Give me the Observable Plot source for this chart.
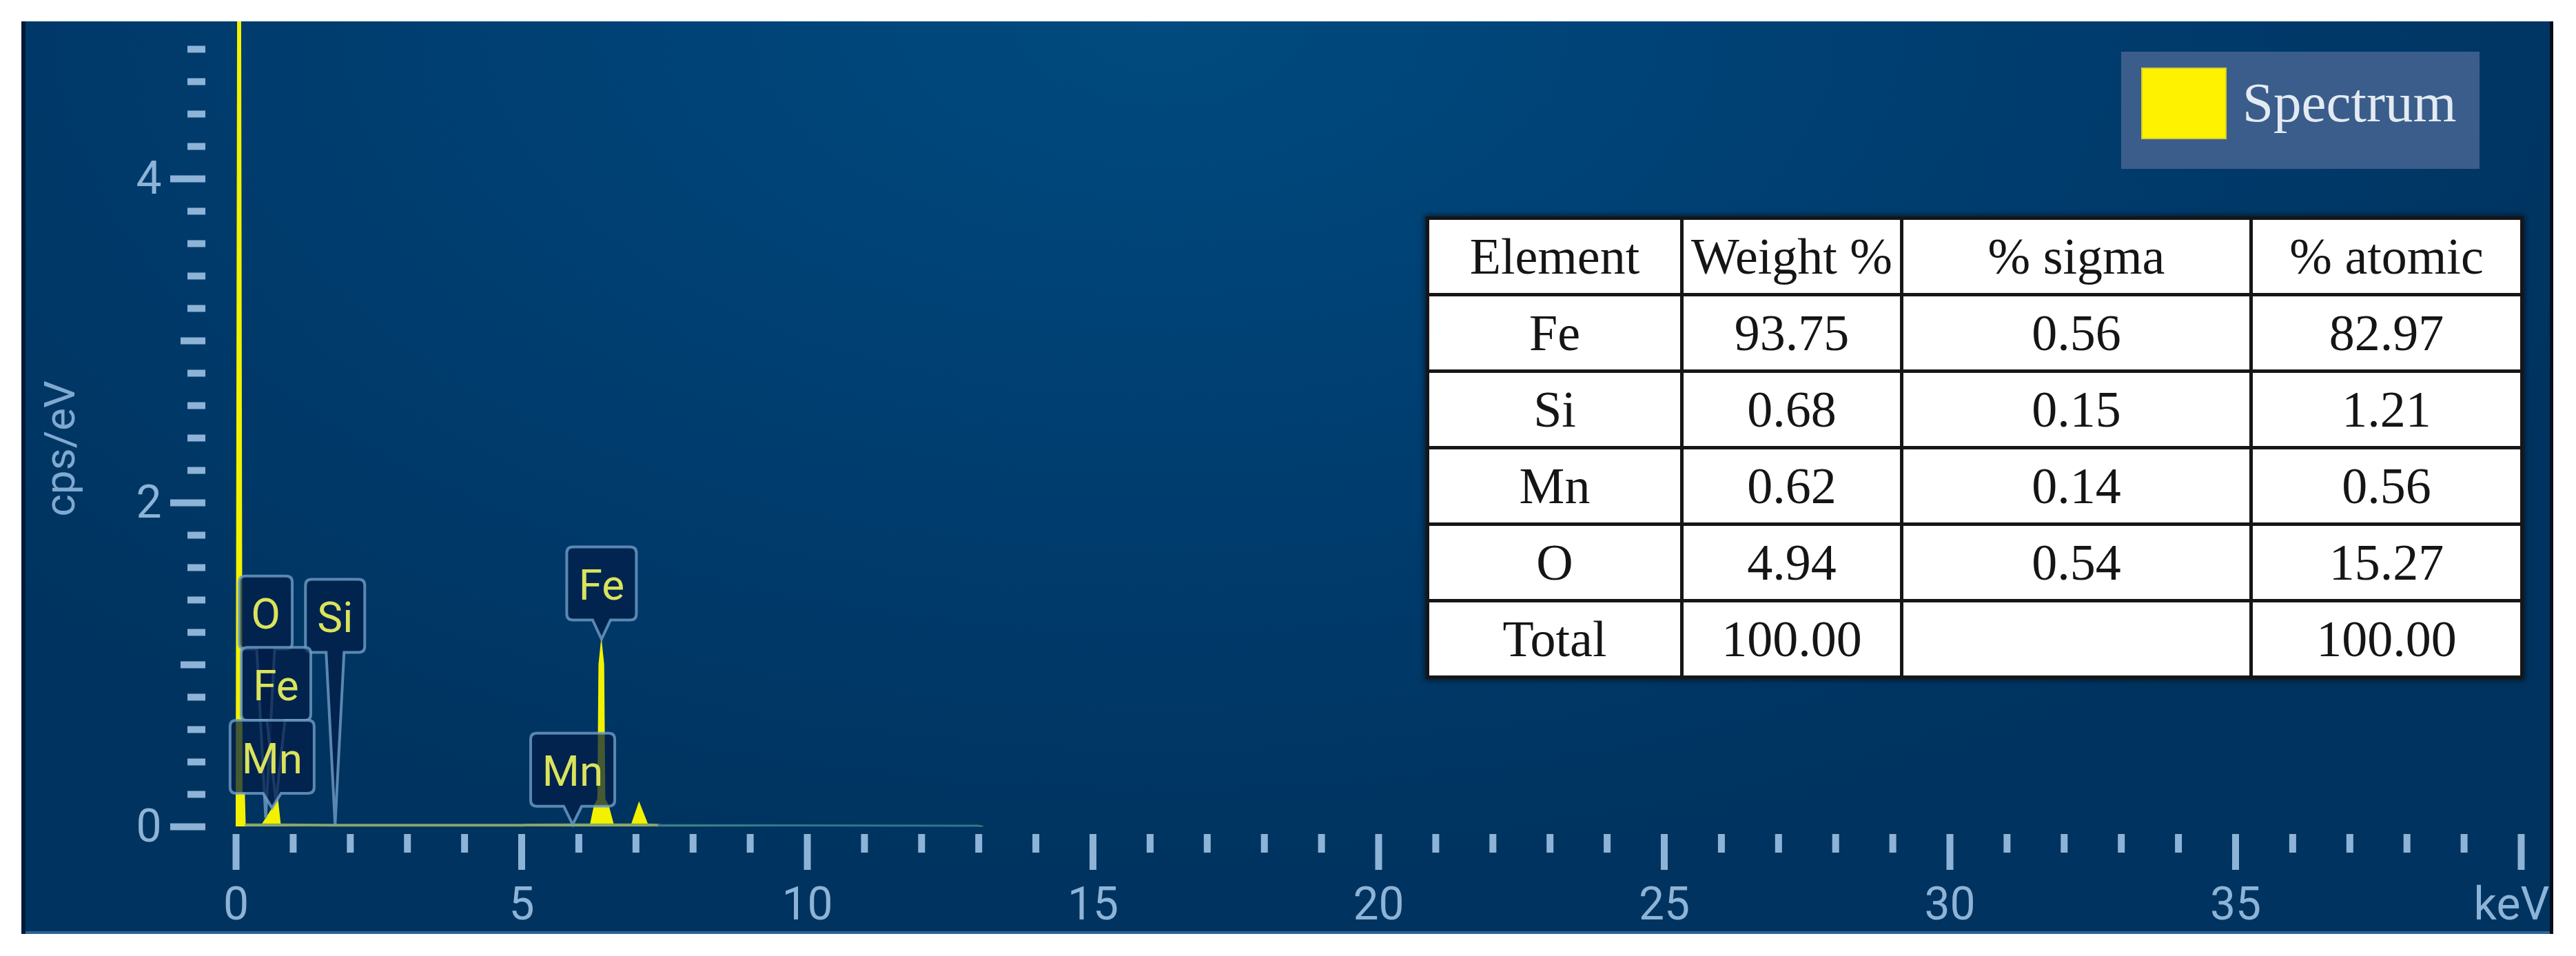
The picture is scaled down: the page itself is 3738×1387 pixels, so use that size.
<!DOCTYPE html>
<html>
<head>
<meta charset="utf-8">
<script src="https://cdn.jsdelivr.net/npm/d3@7"></script>
<script src="https://cdn.jsdelivr.net/npm/@observablehq/plot@0.6"></script>
<style>
  html, body { margin: 0; padding: 0; background: #ffffff; }
  body { width: 3738px; height: 1387px; position: relative; overflow: hidden; }
  #panel {
    position: absolute; left: 31px; top: 31px; width: 3674px; height: 1324px;
    background: radial-gradient(ellipse 62% 95% at 45% 0%, #004b7f 0%, #003f72 45%, #00335f 100%);
    box-shadow: inset 6px 0 0 #001a38, inset -5px 0 0 #060c16, inset 0 -4px 0 #2b6494;
  }
  #panel svg { position: absolute; left: 0; top: 0; }
  #eds {
    position: absolute; left: 2069px; top: 314px; width: 1588px; height: 666px;
    border-collapse: collapse; table-layout: fixed; background: #ffffff;
    font-family: "Liberation Serif", "Times New Roman", serif; font-size: 74px; color: #151515;
    box-shadow: 0 0 8px 2px rgba(0,0,0,0.55);
  }
  #eds td { border: 5px solid #161616; text-align: center; vertical-align: middle; padding: 0; line-height: 1; }
  #eds tr { height: 111px; }
  #legend {
    position: absolute; left: 3078px; top: 75px; width: 520px; height: 170px; background: #3b5d8b;
  }
  #legend .sw {
    position: absolute; left: 29px; top: 23px; width: 120px; height: 100px;
    background: #fff200; border: 2px solid #d6cf2a;
  }
  #legend .lab {
    position: absolute; left: 176px; top: 34px; font-family: "Liberation Serif", "Times New Roman", serif;
    font-size: 81px; line-height: 1; color: #e4eaf2; white-space: nowrap;
  }
</style>
</head>
<body>
<div id="panel"></div>
<script>
// ---- spectrum (keV, cps/eV) ----
const energy = [0.000, 0.060, 0.120, 0.160, 0.175, 0.450, 0.740, 0.790, 1.740, 5.000, 5.899, 6.200, 6.270, 6.330, 6.350, 6.400, 6.450, 6.470, 6.530, 6.620, 6.920, 7.060, 7.220, 7.400, 13.00, 13.10, 40.00];
const cps    = [0.210, 12.00, 0.210, 0.210, 0.012, 0.012, 0.170, 0.012, 0.010, 0.010, 0.012, 0.012, 0.130, 0.170, 1.000, 1.170, 1.000, 0.170, 0.130, 0.012, 0.012, 0.155, 0.012, 0.010, 0.006, 0.000, 0.000];

// ---- peak labels ----
const lineElement = ["O", "Si", "Fe", "Mn", "Fe", "Mn"];
const lineEnergy  = [0.525, 1.740, 0.705, 0.637, 6.404, 5.899];
const labelLevel  = [1.32, 1.30, 0.88, 0.43, 1.50, 0.35];

// ---- axis ticks ----
const xMajorTicks = [0, 5, 10, 15, 20, 25, 30, 35, 40];
const xTickLabels = ["0", "5", "10", "15", "20", "25", "30", "35", "keV"];
const xMinorTicks = d3.range(0, 41).filter(v => v % 5 !== 0);
const yMajorTicks = [0, 2, 4];
const yTickLabels = ["0", "2", "4"];
const yMidTicks = [1, 3];
const yMinorTicks = d3.range(1, 25).filter(i => i % 5 !== 0).map(i => i / 5);

// ---- quantification table ----
const tableHeader = ["Element", "Weight %", "% sigma", "% atomic"];
const tableElement = ["Fe", "Si", "Mn", "O", "Total"];
const weightPct = ["93.75", "0.68", "0.62", "4.94", "100.00"];
const sigmaPct = ["0.56", "0.15", "0.14", "0.54", ""];
const atomicPct = ["82.97", "1.21", "0.56", "15.27", "100.00"];

const legendLabel = "Spectrum";

// ------------------------------------------------------------
const spectrum = energy.map((e, i) => ({energy: e, cps: cps[i]}));
const valueAt = e => {
  const i = d3.bisectLeft(energy, e);
  if (i <= 0) return cps[0];
  if (i >= energy.length) return cps[cps.length - 1];
  const t = (e - energy[i - 1]) / (energy[i] - energy[i - 1]);
  return cps[i - 1] + t * (cps[i] - cps[i - 1]);
};
const baseLine = spectrum.filter(d => d.cps < 0.05 && d.energy >= 0.16 && d.energy <= 13.0);

const axisColor = "#8db3d7";
const labelFont = 62;

function callouts(index, scales) {
  const g = d3.create("svg:g");
  const ctx = document.createElement("canvas").getContext("2d");
  ctx.font = `${labelFont}px Roboto`;
  lineElement.forEach((el, i) => {
    const cx = scales.x(lineEnergy[i]);
    const cy = scales.y(labelLevel[i]);
    const tip = scales.y(valueAt(lineEnergy[i]));
    const w = Math.round(ctx.measureText(el).width + 34);
    const h = 106, r = 9, nw = 13;
    const x0 = cx - w / 2, x1 = cx + w / 2, y0 = cy - h / 2, y1 = cy + h / 2;
    const d = `M${x0 + r},${y0} H${x1 - r} Q${x1},${y0} ${x1},${y0 + r} V${y1 - r} Q${x1},${y1} ${x1 - r},${y1} H${cx + nw} L${cx},${tip} L${cx - nw},${y1} H${x0 + r} Q${x0},${y1} ${x0},${y1 - r} V${y0 + r} Q${x0},${y0} ${x0 + r},${y0} Z`;
    g.append("path").attr("d", d)
      .attr("fill", "#021d47").attr("fill-opacity", 0.72)
      .attr("stroke", "#6f9fc8").attr("stroke-opacity", 0.8).attr("stroke-width", 4);
    g.append("text").attr("x", cx).attr("y", cy).attr("dy", "0.38em")
      .attr("text-anchor", "middle").attr("font-family", "Roboto, sans-serif")
      .attr("font-size", labelFont).attr("fill", "#dbe35c").text(el);
  });
  return g.node();
}

const chart = Plot.plot({
  width: 3674, height: 1324,
  marginLeft: 267, marginRight: 47, marginTop: 0, marginBottom: 145,
  x: {domain: [-0.531, 40]},
  y: {domain: [-0.0468, 4.970]},
  style: {background: "transparent", color: axisColor, fontFamily: "Roboto, sans-serif", fontSize: "66px", overflow: "visible"},
  marks: [
    Plot.areaY(spectrum, {x: "energy", y: "cps", fill: "#f2f200", clip: true}),
    Plot.line(baseLine.filter(d => d.energy <= 7.4), {x: "energy", y: "cps", stroke: "#86a56c", strokeWidth: 4}),
    Plot.line(baseLine.filter(d => d.energy >= 7.4), {x: "energy", y: "cps", stroke: "#2f7890", strokeWidth: 3}),
    Plot.axisX(xMajorTicks, {tickSize: 52, tickPadding: 25, strokeWidth: 10, label: null,
      tickFormat: d => (d === 40 ? "" : xTickLabels[xMajorTicks.indexOf(d)])}),
    Plot.text([40], {x: d => d, frameAnchor: "bottom", text: d => xTickLabels[xMajorTicks.indexOf(d)],
      dy: 77, dx: -14, lineAnchor: "top", fill: axisColor}),
    Plot.axisX(xMinorTicks, {tickSize: 27, strokeWidth: 10, label: null, tickFormat: () => ""}),
    Plot.axisY(yMajorTicks, {tickSize: 51, tickPadding: 13, strokeWidth: 10, label: null,
      tickFormat: d => yTickLabels[yMajorTicks.indexOf(d)]}),
    Plot.axisY(yMidTicks, {tickSize: 36, strokeWidth: 10, label: null, tickFormat: () => ""}),
    Plot.axisY(yMinorTicks, {tickSize: 26, strokeWidth: 10, label: null, tickFormat: () => ""}),
    Plot.text(["cps/eV"], {text: d => d, frameAnchor: "left", dx: -210, dy: 30, rotate: -90,
      textAnchor: "middle", lineAnchor: "middle", fontSize: 62, fill: "#7fa9d0"}),
    callouts
  ]
});
document.getElementById("panel").appendChild(chart);

// ---- table ----
const table = d3.select("body").append("table").attr("id", "eds");
const cg = table.append("colgroup");
[369, 319, 507, 393].forEach(w => cg.append("col").style("width", w + "px"));
const rows = [tableHeader].concat(tableElement.map((e, i) => [e, weightPct[i], sigmaPct[i], atomicPct[i]]));
rows.forEach(r => {
  const tr = table.append("tr");
  r.forEach(v => tr.append("td").text(v));
});

// ---- legend ----
const lg = d3.select("body").append("div").attr("id", "legend");
lg.append("div").attr("class", "sw");
lg.append("div").attr("class", "lab").text(legendLabel);
</script>
</body>
</html>
